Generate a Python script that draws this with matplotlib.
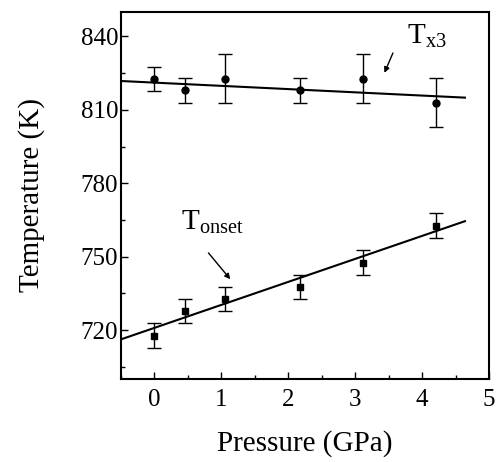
import numpy as np
import matplotlib
matplotlib.use("Agg")
import matplotlib.pyplot as plt

plt.rcParams["font.family"] = ["Liberation Serif", "DejaVu Serif"]
plt.rcParams["mathtext.fontset"] = "stix"

# data
pressure_x3 = [0.0, 0.46, 1.05, 2.18, 3.12, 4.21]
temp_x3 = [822.7, 818.0, 822.7, 818.0, 822.7, 813.0]
err_x3 = [5, 5, 10, 5, 10, 10]
fit_x3 = [821.8, 815.0]

pressure_on = [0.0, 0.46, 1.05, 2.18, 3.12, 4.21]
temp_on = [717.7, 727.7, 732.6, 737.6, 747.6, 762.7]
err_on = [5, 5, 5, 5, 5, 5]
fit_on = [716.2, 764.5]

fit_x = [-0.5, 4.64]

fig = plt.figure(figsize=(4.97, 4.62), dpi=100)
ax = fig.add_axes([0.2435, 0.1797, 0.7405, 0.7943])

ax.errorbar(pressure_x3, temp_x3, yerr=err_x3, fmt="o", color="black",
            ms=5, capsize=5, elinewidth=1, capthick=1)
ax.errorbar(pressure_on, temp_on, yerr=err_on, fmt="s", color="black",
            ms=5, capsize=5, elinewidth=1, capthick=1)
ax.plot(fit_x, fit_x3, color="black", lw=1.5)
ax.plot(fit_x, fit_on, color="black", lw=1.5)

ax.text(3.78, 837, r"$\mathregular{T_{x3}}$", fontsize=21)
ax.annotate("", xy=(3.42, 824.1), xytext=(3.58, 834.3),
            arrowprops=dict(arrowstyle="-|>", color="black", lw=1,
                            mutation_scale=8))
ax.text(0.40, 760.9, r"$\mathregular{T_{onset}}$", fontsize=21)
ax.annotate("", xy=(1.16, 739.9), xytext=(0.78, 752.4),
            arrowprops=dict(arrowstyle="-|>", color="black", lw=1,
                            mutation_scale=8))

ax.set_xlim(-0.5, 5)
ax.set_ylim(700, 850)
ax.set_xticks([0, 1, 2, 3, 4, 5])
ax.set_xticks(np.arange(-0.5, 5.01, 0.5), minor=True)
ax.set_yticks([720, 750, 780, 810, 840])
ax.set_yticks(np.arange(705, 850, 15), minor=True)
ax.tick_params(direction="in", which="both", labelsize=18, width=1)
ax.tick_params(which="major", length=5)
ax.tick_params(which="minor", length=3)
ax.tick_params(axis="x", pad=7)
ax.tick_params(axis="y", pad=2)
for s in ax.spines.values():
    s.set_linewidth(1.5)

ax.set_xlabel("Pressure (GPa)", fontsize=21, labelpad=14)
ax.set_ylabel("Temperature (K)", fontsize=21, labelpad=26)

fig.savefig("out.png", dpi=100)
